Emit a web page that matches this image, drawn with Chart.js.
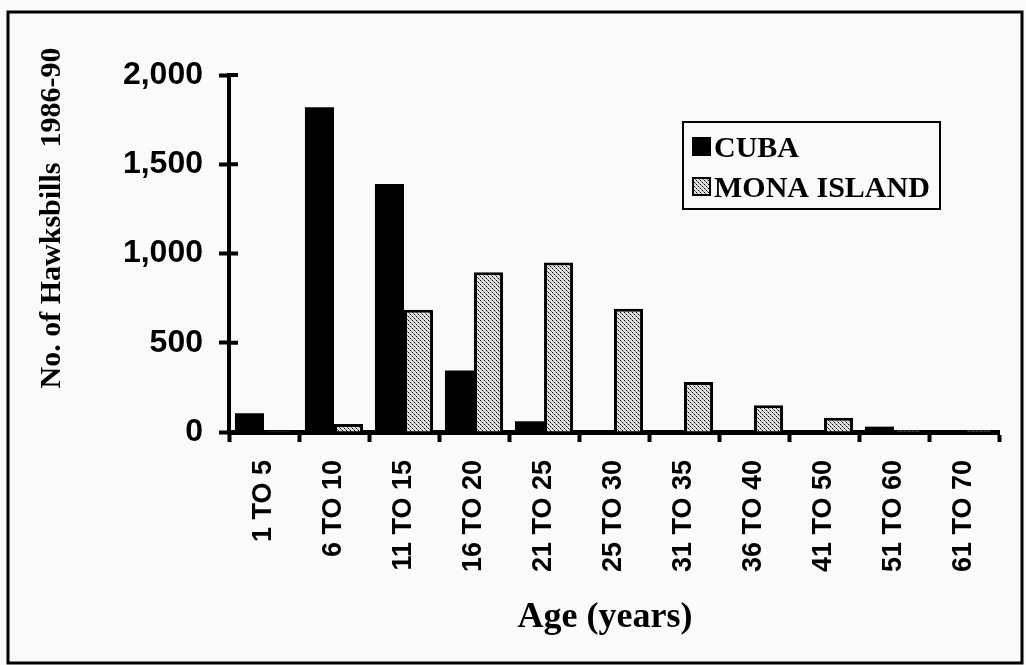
<!DOCTYPE html>
<html>
<head>
<meta charset="utf-8">
<script src="https://cdn.jsdelivr.net/npm/chart.js@4"></script>
<style>
  html, body { margin: 0; padding: 0; background: #fafafa; }
  #wrap { width: 1026px; height: 665px; position: relative; }
</style>
</head>
<body>
<div id="wrap"><canvas id="hawkChart" width="1026" height="665"></canvas></div>
<script>
// age classes and counts
const ageLabels = ['1 TO 5', '6 TO 10', '11 TO 15', '16 TO 20', '21 TO 25', '25 TO 30',
                   '31 TO 35', '36 TO 40', '41 TO 50', '51 TO 60', '61 TO 70'];
const cubaCounts = [105, 1820, 1390, 345, 60, 10, 10, 5, 5, 30, 10];
const monaCounts = [5, 45, 685, 895, 950, 690, 280, 150, 80, 10, 10];
const yTicks = [0, 500, 1000, 1500, 2000];

// stippled fill for Mona Island
function dotPattern() {
    const c = document.createElement('canvas');
    c.width = 4; c.height = 4;
    const g = c.getContext('2d');
    g.fillStyle = '#e0e0e0';
    g.fillRect(0, 0, 4, 4);
    g.fillStyle = '#000';
    g.fillRect(0, 0, 1, 1);
    g.fillRect(2, 2, 1, 1);
    g.fillStyle = '#777';
    g.fillRect(1, 1, 1, 1);
    g.fillRect(3, 3, 1, 1);
    return g.createPattern(c, 'repeat');
}
const monaFill = dotPattern();

// frame, titles, inner tick marks and legend
const decorations = {
    id: 'decorations',
    beforeDraw(chart) {
        const ctx = chart.ctx;
        ctx.save();
        ctx.fillStyle = '#fafafa';
        ctx.fillRect(0, 0, chart.width, chart.height);
        ctx.strokeStyle = '#000';
        ctx.lineWidth = 3;
        ctx.strokeRect(8, 12, 1014, 651);
        ctx.restore();
    },
    afterDraw(chart) {
        const ctx = chart.ctx;
        const y = chart.scales.y;
        ctx.save();
        // short ticks on the inside of the y axis
        ctx.strokeStyle = '#000';
        ctx.lineWidth = 4;
        yTicks.forEach(v => {
            const py = y.getPixelForValue(v);
            ctx.beginPath();
            ctx.moveTo(y.right, py);
            ctx.lineTo(y.right + 9, py);
            ctx.stroke();
        });

        ctx.fillStyle = '#000';
        ctx.font = 'bold 30px "Liberation Serif", "Times New Roman", serif';
        ctx.textAlign = 'center';
        ctx.textBaseline = 'middle';
        ctx.translate(52, 218);
        ctx.rotate(-Math.PI / 2);
        ctx.fillText('No. of Hawksbills  1986-90', 0, 0);
        ctx.setTransform(1, 0, 0, 1, 0, 0);

        ctx.font = 'bold 36px "Liberation Serif", "Times New Roman", serif';
        ctx.textBaseline = 'alphabetic';
        ctx.fillText('Age (years)', 605, 627);

        // legend box
        ctx.lineWidth = 2;
        ctx.strokeRect(683, 122, 257, 87);
        ctx.font = 'bold 30px "Liberation Serif", "Times New Roman", serif';
        ctx.textAlign = 'left';
        const rows = [137, 177];
        chart.data.datasets.forEach((ds, i) => {
            const top = rows[i];
            ctx.fillStyle = ds.backgroundColor;
            ctx.fillRect(692, top, 19, 19);
            if (ds.borderWidth) {
                ctx.lineWidth = 2;
                ctx.strokeStyle = '#000';
                ctx.strokeRect(693, top + 1, 17, 17);
            }
            ctx.fillStyle = '#000';
            ctx.fillText(ds.label, 714, top + 20);
        });
        ctx.restore();
    }
};

new Chart(document.getElementById('hawkChart'), {
    type: 'bar',
    data: {
        labels: ageLabels,
        datasets: [{
            label: 'CUBA',
            data: cubaCounts,
            backgroundColor: '#000',
            borderWidth: 0
        }, {
            label: 'MONA ISLAND',
            data: monaCounts,
            backgroundColor: monaFill,
            borderColor: '#000',
            borderWidth: 3
        }]
    },
    options: {
        responsive: false,
        animation: false,
        layout: { padding: { top: 75, right: 27, bottom: 0, left: 0 } },
        plugins: {
            legend: { display: false },
            tooltip: { enabled: false }
        },
        datasets: {
            bar: { categoryPercentage: 0.83, barPercentage: 1.0 }
        },
        scales: {
            x: {
                afterFit: s => { s.height = 233; },
                border: { color: '#000', width: 5 },
                grid: { drawOnChartArea: false, color: '#000', tickLength: 10, tickWidth: 4 },
                ticks: {
                    color: '#000',
                    autoSkip: false,
                    minRotation: 90,
                    maxRotation: 90,
                    padding: 18,
                    font: { family: '"Liberation Sans", Arial, sans-serif', size: 27, weight: 'bold' }
                }
            },
            y: {
                min: 0,
                max: 2000,
                afterFit: s => { s.width = 229; },
                border: { color: '#000', width: 4 },
                grid: { drawOnChartArea: false, color: '#000', tickLength: 10, tickWidth: 4 },
                ticks: {
                    color: '#000',
                    stepSize: 500,
                    padding: 16,
                    font: { family: '"Liberation Sans", Arial, sans-serif', size: 32, weight: 'bold' }
                }
            }
        }
    },
    plugins: [decorations]
});
</script>
</body>
</html>
